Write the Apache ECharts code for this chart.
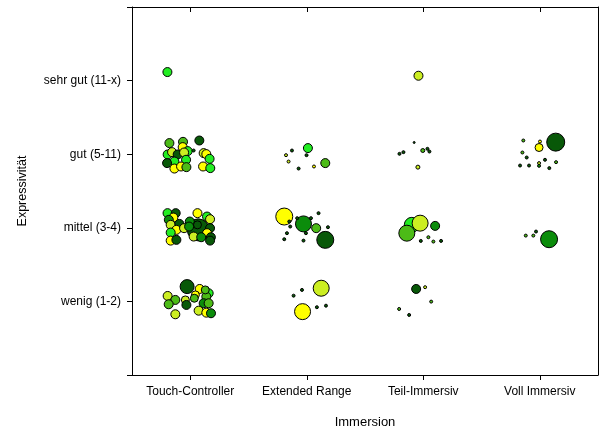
<!DOCTYPE html>
<html><head><meta charset="utf-8">
<script src="https://cdn.jsdelivr.net/npm/echarts@6/dist/echarts.min.js"></script>
<style>html,body{margin:0;padding:0;background:#fff}#c{width:599px;height:430px}</style>
</head><body><div id="c"></div>
<script>
const categories = ['Touch-Controller', 'Extended Range', 'Teil-Immersiv', 'Voll Immersiv'];
const levelLabels = ['wenig (1-2)', 'mittel (3-4)', 'gut (5-11)', 'sehr gut (11-x)'];
const groupColors = ['#ffff00', '#ccee22', '#22ee22', '#4cbb17', '#0b8c0b', '#085808'];

// each point: [x (jittered), y (jittered), bubble size, group]
const touchController = [
  [0.304, 4.116, 9, 2],
  // gut
  [0.321, 3.151, 9, 3], [0.438, 3.168, 9, 3], [0.578, 3.186, 9, 5], [0.435, 3.096, 9, 0],
  [0.306, 2.996, 9, 2], [0.344, 3.028, 9, 1], [0.392, 2.996, 9, 5], [0.478, 3.042, 9, 2],
  [0.447, 3.023, 9, 1], [0.464, 2.924, 9, 2], [0.364, 2.900, 9, 2], [0.301, 2.879, 9, 5],
  [0.364, 2.805, 9, 0], [0.421, 2.833, 9, 0], [0.467, 2.824, 9, 3], [0.615, 3.015, 9, 1],
  [0.638, 3.001, 9, 0], [0.666, 2.937, 9, 2], [0.610, 2.833, 9, 0], [0.672, 2.811, 9, 2],
  [0.529, 3.050, 3, 5],
  // mittel
  [0.569, 1.972, 22, 5],
  [0.305, 2.199, 9, 2], [0.375, 2.199, 9, 5], [0.355, 2.139, 9, 0], [0.316, 2.108, 9, 4],
  [0.332, 2.040, 9, 1], [0.407, 2.053, 9, 5], [0.381, 1.972, 9, 0], [0.332, 1.935, 9, 2],
  [0.447, 1.995, 9, 1], [0.496, 2.085, 9, 4], [0.562, 2.199, 9, 0], [0.644, 2.153, 9, 2],
  [0.670, 2.117, 9, 1], [0.670, 1.995, 9, 5], [0.644, 1.927, 9, 0], [0.529, 1.881, 9, 1],
  [0.594, 1.872, 9, 4], [0.677, 1.872, 9, 5], [0.332, 1.826, 9, 0], [0.381, 1.836, 9, 5],
  [0.670, 1.826, 9, 5], [0.562, 2.040, 8, 5], [0.490, 2.017, 9, 4],
  // wenig
  [0.581, 1.169, 9, 0], [0.658, 1.111, 9, 2], [0.544, 1.088, 8, 0], [0.535, 1.043, 8, 3],
  [0.638, 1.065, 9, 3], [0.306, 1.074, 9, 1], [0.372, 1.020, 9, 3], [0.458, 1.020, 8, 1],
  [0.467, 0.952, 9, 5], [0.315, 0.961, 9, 3], [0.615, 0.975, 9, 4], [0.658, 0.975, 9, 3],
  [0.572, 0.874, 9, 1], [0.638, 0.847, 9, 0], [0.678, 0.839, 9, 4], [0.372, 0.825, 9, 1],
  [0.629, 1.156, 8, 3], [0.473, 1.201, 14, 5]
];
const extendedRange = [
  // gut
  [1.510, 3.083, 9, 2], [1.373, 3.050, 3, 5], [1.322, 2.987, 3, 1], [1.498, 2.987, 3, 5],
  [1.344, 2.900, 3, 1], [1.659, 2.879, 9, 3], [1.430, 2.805, 3, 5], [1.562, 2.833, 3, 0],
  // mittel
  [1.307, 2.153, 17, 0], [1.472, 2.053, 16, 4], [1.581, 1.995, 9, 3], [1.659, 1.836, 17, 5],
  [1.350, 2.085, 3, 5], [1.601, 2.199, 3, 5], [1.330, 1.927, 3, 5], [1.307, 1.845, 3, 5],
  [1.493, 1.927, 3, 5], [1.472, 1.826, 3, 5], [1.682, 2.008, 3, 5], [1.358, 2.017, 3, 5],
  [1.418, 2.131, 3, 5], [1.536, 2.131, 3, 5],
  // wenig
  [1.624, 1.179, 16, 1], [1.464, 0.861, 16, 0], [1.387, 1.078, 3, 5], [1.459, 1.156, 3, 5],
  [1.587, 0.921, 3, 5], [1.665, 0.942, 3, 5]
];
const teilImmersiv = [
  [2.459, 4.066, 9, 1],
  // gut
  [2.422, 3.159, 2, 5], [2.296, 3.005, 3, 5], [2.330, 3.028, 3, 5], [2.496, 3.050, 4, 3],
  [2.536, 3.073, 3, 5], [2.553, 3.036, 3, 5], [2.454, 2.824, 4, 1],
  // mittel
  [2.402, 2.040, 15, 2], [2.473, 2.063, 16, 1], [2.359, 1.927, 16, 3], [2.602, 2.026, 9, 4],
  [2.479, 1.822, 3, 5], [2.544, 1.872, 3, 3], [2.587, 1.813, 3, 3], [2.653, 1.822, 3, 5],
  // wenig
  [2.439, 1.169, 9, 5], [2.516, 1.193, 3, 1], [2.568, 0.997, 3, 3], [2.293, 0.897, 3, 3],
  [2.379, 0.816, 3, 5]
];
const vollImmersiv = [
  // gut
  [3.637, 3.164, 18, 5], [3.494, 3.091, 8, 0], [3.502, 3.172, 3, 0], [3.359, 3.186, 3, 3],
  [3.351, 3.023, 3, 3], [3.388, 2.955, 3, 5], [3.331, 2.846, 3, 5], [3.408, 2.846, 3, 5],
  [3.494, 2.879, 3, 1], [3.545, 2.924, 3, 5], [3.582, 2.811, 3, 5], [3.640, 2.892, 3, 3],
  [3.494, 2.842, 3, 4],
  // mittel
  [3.580, 1.845, 17, 4], [3.380, 1.894, 3, 3], [3.445, 1.894, 3, 3], [3.468, 1.949, 3, 5]
];

const font = 'Liberation Sans, Arial, sans-serif';
const chart = echarts.init(document.getElementById('c'), null, {renderer: 'canvas'});
const lineStyle = {color: '#000', width: 1};
const mkSeries = (name, pts) => ({
  name, type: 'scatter', xAxisIndex: 2, yAxisIndex: 0,
  data: pts,
  symbolSize: d => d[2],
  itemStyle: {
    color: p => groupColors[p.data[3]],
    borderColor: '#000', borderWidth: 1, opacity: 1
  },
  emphasis: {disabled: true},
  animation: false
});

chart.setOption({
  animation: false,
  grid: {left: 132, right: 1, top: 7, bottom: 55, containLabel: false, outerBoundsMode: 'none'},
  xAxis: [
    {
      type: 'category', position: 'bottom', data: categories, boundaryGap: true,
      axisLine: {show: true, onZero: false, lineStyle},
      axisTick: {show: true, alignWithLabel: true, inside: false, length: 5, lineStyle},
      axisLabel: {color: '#000', fontFamily: font, fontSize: 12, margin: 11},
      splitLine: {show: false},
      name: 'Immersion', nameLocation: 'middle', nameGap: 41,
      nameTextStyle: {color: '#000', fontFamily: font, fontSize: 13}
    },
    {
      type: 'category', position: 'top', data: categories, boundaryGap: true,
      axisLine: {show: true, onZero: false, lineStyle},
      axisTick: {show: true, alignWithLabel: true, inside: true, length: 5, lineStyle},
      axisLabel: {show: false}, splitLine: {show: false}
    },
    {
      type: 'value', min: 0, max: 4, show: false, splitLine: {show: false}
    }
  ],
  yAxis: [
    {
      type: 'value', min: 0, max: 5, interval: 1, position: 'left',
      axisLine: {show: true, onZero: false, lineStyle},
      axisTick: {show: true, inside: false, length: 5, lineStyle},
      axisLabel: {
        color: '#000', fontFamily: font, fontSize: 12, margin: 11,
        formatter: v => (v >= 1 && v <= 4) ? levelLabels[v - 1] : ''
      },
      splitLine: {show: false},
      name: 'Expressivität', nameLocation: 'middle', nameGap: 103, nameRotate: 90,
      nameTextStyle: {color: '#000', fontFamily: font, fontSize: 12.5}
    },
    {
      type: 'value', min: 0, max: 5, position: 'right',
      axisLine: {show: true, onZero: false, lineStyle},
      axisTick: {show: false}, axisLabel: {show: false}, splitLine: {show: false}
    }
  ],
  series: [
    mkSeries('Touch-Controller', touchController),
    mkSeries('Extended Range', extendedRange),
    mkSeries('Teil-Immersiv', teilImmersiv),
    mkSeries('Voll Immersiv', vollImmersiv)
  ]
});
</script>
</body></html>
